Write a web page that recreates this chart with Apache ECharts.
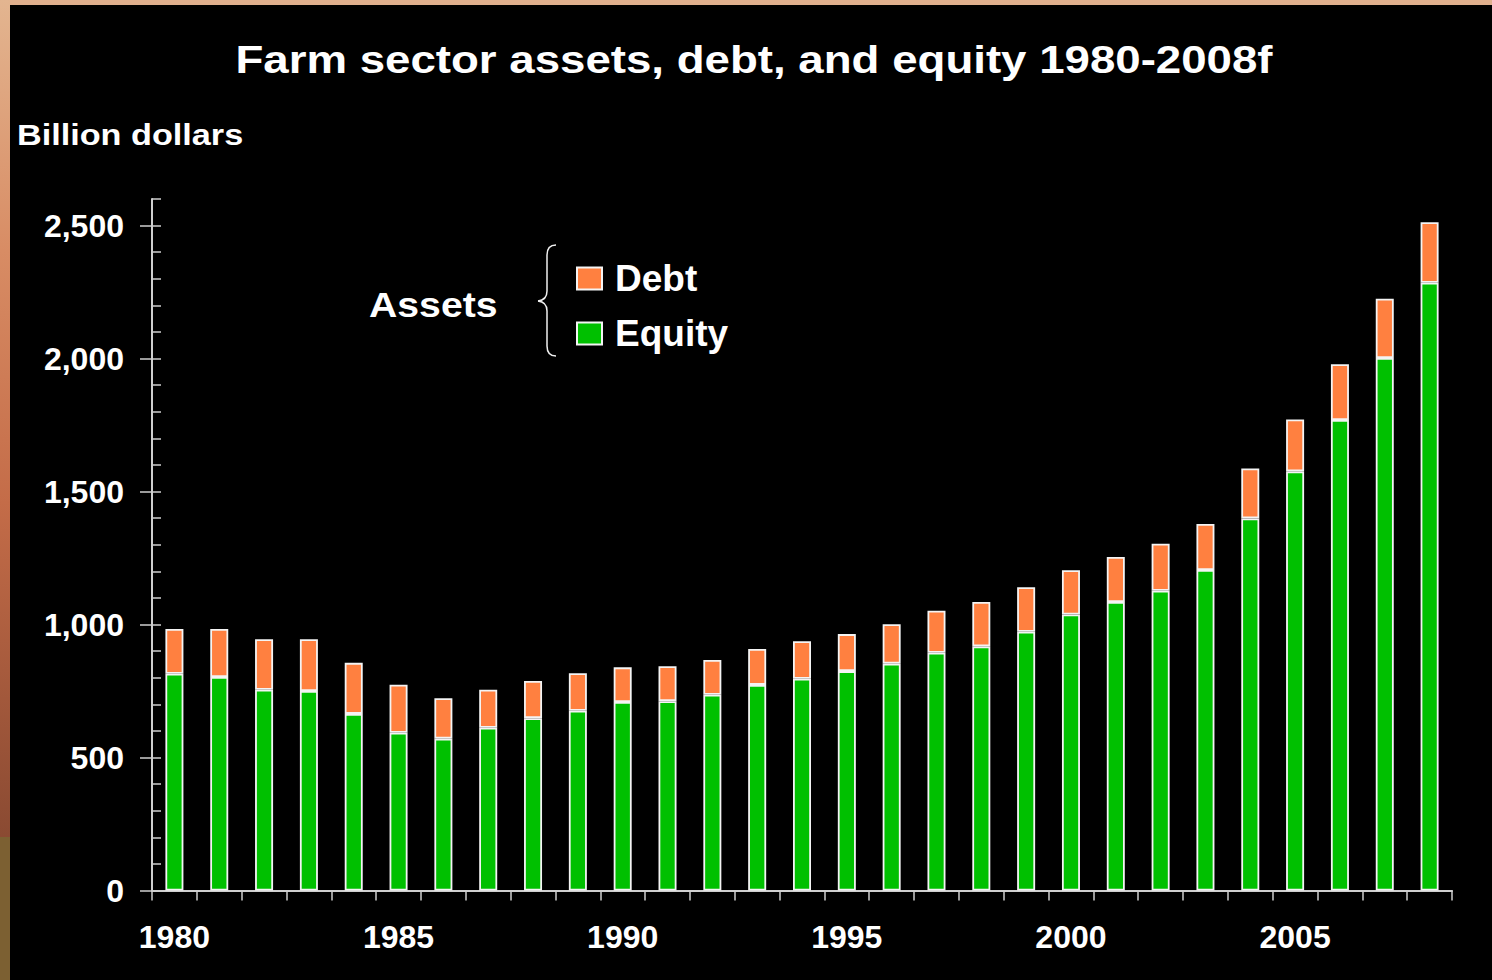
<!DOCTYPE html>
<html>
<head>
<meta charset="utf-8">
<title>Farm sector assets, debt, and equity 1980-2008f</title>
<script src="https://cdn.jsdelivr.net/npm/echarts@6/dist/echarts.min.js"></script>
<style>
  html, body { margin: 0; padding: 0; background: #000; }
  #chart { width: 1492px; height: 980px; }
</style>
</head>
<body>
<div id="chart"></div>
<script>
// Years on the category axis (2008 is a forecast)
const years = ['1980', '1981', '1982', '1983', '1984', '1985', '1986', '1987', '1988', '1989',
  '1990', '1991', '1992', '1993', '1994', '1995', '1996', '1997', '1998', '1999',
  '2000', '2001', '2002', '2003', '2004', '2005', '2006', '2007', '2008'];

// Farm sector equity, billion dollars
const equity = [815, 803, 755, 750, 664, 593, 571, 612, 648, 676,
  709, 712, 736, 773, 796, 825, 853, 894, 918, 973,
  1038, 1085, 1127, 1205, 1399, 1576, 1769, 2002, 2285];

// Farm sector debt, billion dollars (stacked on equity = total assets)
const debt = [168, 180, 190, 195, 192, 181, 152, 143, 140, 141,
  130, 131, 131, 135, 141, 139, 148, 158, 167, 167,
  166, 169, 177, 173, 188, 195, 210, 223, 228];

// Value-axis tick marks
const majorTicks = [0, 500, 1000, 1500, 2000, 2500];
const yMax = 2600;

const FONT = '"Liberation Sans", Arial, Helvetica, sans-serif';
const AXIS_GREY = '#cfcfcf';
const BRACE = '#f0f0f0';

function withCommas(v) {
  return String(v).replace(/\B(?=(\d{3})+(?!\d))/g, ',');
}

// one stroke of the brace next to the legend
function braceCurve(x1, y1, cpx1, cpy1, x2, y2) {
  return {
    type: 'bezierCurve', z: 100, silent: true,
    shape: { x1, y1, cpx1, cpy1, x2, y2 },
    style: { stroke: BRACE, lineWidth: 1.5, fill: null }
  };
}
function braceLine(x1, y1, x2, y2) {
  return {
    type: 'line', z: 100, silent: true,
    shape: { x1, y1, x2, y2 },
    style: { stroke: BRACE, lineWidth: 1.5 }
  };
}

const chart = echarts.init(document.getElementById('chart'), null, { renderer: 'svg' });

chart.setOption({
  backgroundColor: '#000',
  animation: false,
  textStyle: { fontFamily: FONT },
  grid: { left: 152, top: 199, width: 1300, height: 691.5 },
  legend: {
    data: ['Debt', 'Equity'],
    orient: 'vertical',
    left: 571,
    top: 255,
    icon: 'rect',
    itemWidth: 25,
    itemHeight: 22,
    itemGap: 18,
    selectedMode: false,
    textStyle: {
      color: '#fff', fontSize: 37, fontWeight: 'bold', fontFamily: FONT,
      padding: [0, 0, 0, 8]
    }
  },
  xAxis: {
    type: 'category',
    data: years,
    boundaryGap: true,
    axisLine: { show: true, lineStyle: { color: AXIS_GREY, width: 2 } },
    axisTick: { show: true, interval: 0, alignWithLabel: false, length: 10, lineStyle: { color: AXIS_GREY, width: 1.5 } },
    axisLabel: {
      interval: 4, color: '#fff', fontSize: 32, fontWeight: 'bold', fontFamily: FONT, margin: 30
    },
    splitLine: { show: false }
  },
  yAxis: [
    {
      // minor ticks every 100, pointing into the plot
      type: 'value',
      min: 0, max: yMax, interval: 100,
      axisLine: { show: true, lineStyle: { color: AXIS_GREY, width: 2 } },
      axisTick: { show: true, inside: true, length: 9, lineStyle: { color: AXIS_GREY, width: 1.5 } },
      axisLabel: { show: false },
      splitLine: { show: false }
    },
    {
      // major ticks and labels every 500
      type: 'value',
      position: 'left',
      min: 0, max: yMax,
      axisLine: { show: false },
      axisTick: { show: true, inside: false, length: 12, customValues: majorTicks, lineStyle: { color: AXIS_GREY, width: 1.5 } },
      axisLabel: {
        show: true, customValues: majorTicks,
        color: '#fff', fontSize: 32, fontWeight: 'bold', fontFamily: FONT, margin: 28,
        formatter: v => withCommas(v)
      },
      splitLine: { show: false }
    }
  ],
  series: [
    {
      name: 'Equity',
      type: 'bar',
      stack: 'assets',
      yAxisIndex: 0,
      barWidth: 18,
      data: equity,
      itemStyle: { color: '#00c000', borderColor: '#f4f4f4', borderWidth: 1.8 }
    },
    {
      name: 'Debt',
      type: 'bar',
      stack: 'assets',
      yAxisIndex: 0,
      barWidth: 18,
      data: debt,
      itemStyle: { color: '#ff8040', borderColor: '#f4f4f4', borderWidth: 1.8 }
    }
  ],
  graphic: [
    // slide frame: peach strip on top, warm gradient strip on the left
    {
      type: 'rect', z: 100, silent: true,
      shape: { x: 0, y: 0, width: 1492, height: 5 },
      style: { fill: '#e0b08e' }
    },
    {
      type: 'rect', z: 100, silent: true,
      shape: { x: 0, y: 0, width: 10, height: 837 },
      style: {
        fill: {
          type: 'linear', x: 0, y: 0, x2: 0, y2: 1,
          colorStops: [
            { offset: 0, color: '#e3b590' },
            { offset: 0.3, color: '#d88c64' },
            { offset: 0.6, color: '#c46c48' },
            { offset: 1, color: '#8a4a32' }
          ]
        }
      }
    },
    {
      type: 'rect', z: 100, silent: true,
      shape: { x: 0, y: 837, width: 10, height: 143 },
      style: { fill: '#7c6032' }
    },
    // chart title
    {
      type: 'text', x: 754, y: 60, scaleX: 1.17, z: 100,
      style: {
        text: 'Farm sector assets, debt, and equity 1980-2008f',
        fill: '#fff', font: 'bold 39px ' + FONT,
        textAlign: 'center', textVerticalAlign: 'middle'
      }
    },
    // unit label
    {
      type: 'text', x: 17, y: 135, scaleX: 1.18, z: 100,
      style: {
        text: 'Billion dollars',
        fill: '#fff', font: 'bold 29px ' + FONT,
        textAlign: 'left', textVerticalAlign: 'middle'
      }
    },
    // "Assets" with a brace grouping the two legend entries
    {
      type: 'text', x: 369, y: 305, scaleX: 1.12, z: 100,
      style: {
        text: 'Assets',
        fill: '#fff', font: 'bold 35px ' + FONT,
        textAlign: 'left', textVerticalAlign: 'middle'
      }
    },
    braceCurve(556, 245, 547, 245, 547, 255),
    braceLine(547, 255, 547, 291),
    braceCurve(547, 291, 547, 300, 538, 301),
    braceCurve(538, 301, 547, 302, 547, 311),
    braceLine(547, 311, 547, 346),
    braceCurve(547, 346, 547, 356, 556, 356)
  ]
});
</script>
</body>
</html>
